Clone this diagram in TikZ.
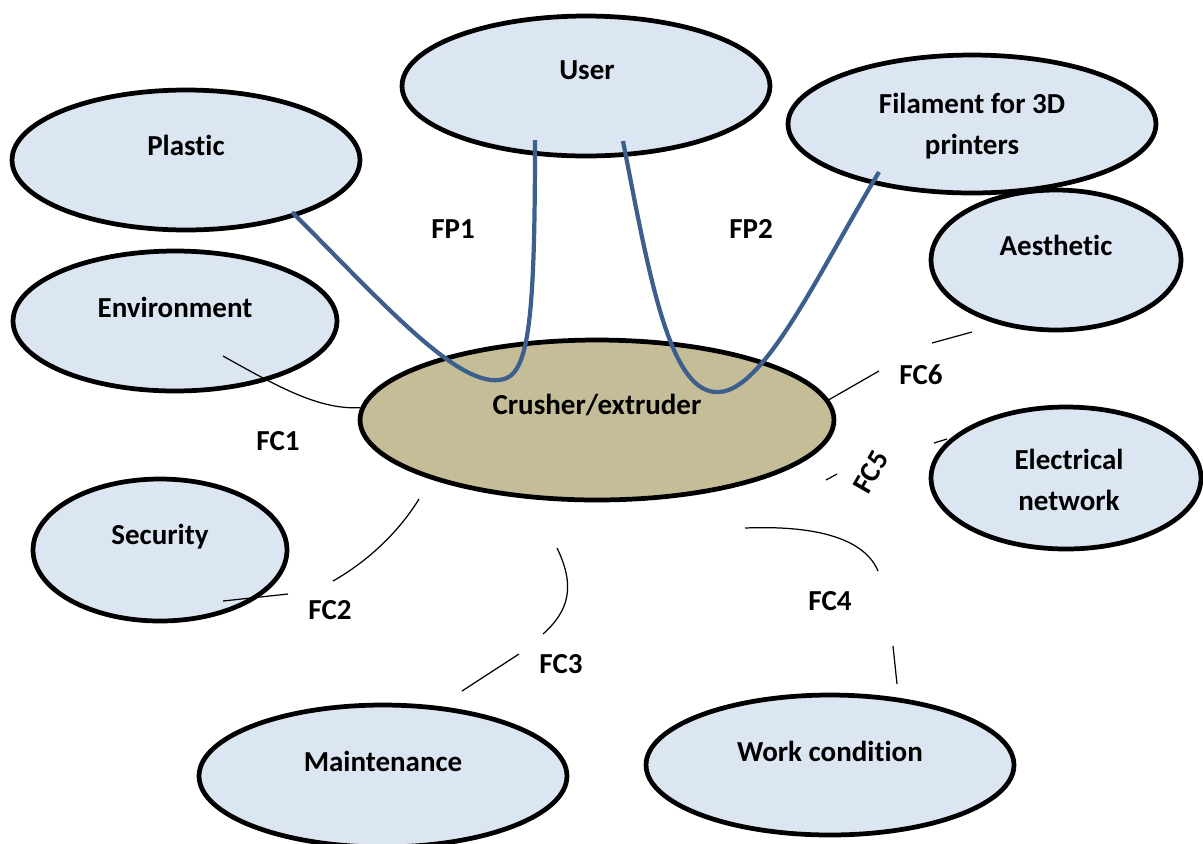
\documentclass[tikz,border=0pt]{standalone}
\usepackage{fontspec}
\setmainfont{Carlito}[Ligatures=NoCommon]
\usetikzlibrary{shapes.geometric}
\definecolor{paleblue}{HTML}{DCE6F2}
\definecolor{tan}{HTML}{C4BD97}
\definecolor{fpblue}{HTML}{3C5F8E}
\tikzset{
  blob/.style={ellipse, draw, line width=2.7pt, fill=paleblue, inner sep=0pt},
  lbl/.style={font=\bfseries\fontsize{16.5}{23.5}\selectfont, align=center},
  fpline/.style={draw=fpblue, line width=2.4pt},
  fcline/.style={draw, line width=0.7pt},
}
\begin{document}
\begin{tikzpicture}[x=0.02cm, y=-0.02cm]
\useasboundingbox (0,0) rectangle (1203,843);

% ellipses
\node[blob, minimum width=6.96cm, minimum height=2.8cm] (plastic) at (186,160) {};
\node[blob, minimum width=7.36cm, minimum height=2.8cm] (user) at (586,86) {};
\node[blob, minimum width=7.36cm, minimum height=2.76cm] (filament) at (972,124) {};
\node[blob, minimum width=5.0cm, minimum height=2.8cm] (aesthetic) at (1056,260) {};
\node[blob, minimum width=6.48cm, minimum height=2.8cm] (environment) at (175,321) {};
\node[blob, fill=tan, minimum width=9.48cm, minimum height=3.2cm] (crusher) at (597,420) {};
\node[blob, minimum width=5.4cm, minimum height=2.84cm] (electrical) at (1066,478) {};
\node[blob, minimum width=5.08cm, minimum height=2.84cm] (security) at (160,550) {};
\node[blob, minimum width=7.36cm, minimum height=2.84cm] (maintenance) at (383,776) {};
\node[blob, minimum width=7.36cm, minimum height=2.8cm] (work) at (830,765) {};

% texts
\node[lbl] (tplastic) at (186,145) {Plastic};
\node[lbl] (tuser) at (587,70) {User};
\node[lbl] (tfilament) at (972,126) {Filament for 3D\\printers};
\node[lbl] (taesthetic) at (1056,245) {Aesthetic};
\node[lbl] (tenvironment) at (175,307) {Environment};
\node[lbl] (tcrusher) at (597,405) {Crusher/extruder};
\node[lbl] (telectrical) at (1069,480) {Electrical\\network};
\node[lbl] (tsecurity) at (160,537) {Security};
\node[lbl] (tmaintenance) at (383,761) {Maintenance};
\node[lbl] (twork) at (830,751) {Work condition};

% free ends
\coordinate (fp1a) at (292,212);
\coordinate (fp1b) at (535,140);
\coordinate (fp2a) at (623,141);
\coordinate (fp2b) at (879,172);
\coordinate (fc1a) at (223,356);
\coordinate (fc2a) at (223,601);
\coordinate (fc2b) at (288,594);
\coordinate (fc2c) at (333,581);
\coordinate (fc2d) at (419,499);
\coordinate (fc3a) at (557,548);
\coordinate (fc3b) at (543,634);
\coordinate (fc3c) at (519,654);
\coordinate (fc3d) at (462,691);
\coordinate (fc4a) at (745,528);
\coordinate (fc4b) at (878,571);
\coordinate (fc4c) at (893,646);
\coordinate (fc4d) at (897,684);
\coordinate (fc5a) at (826,480);
\coordinate (fc5b) at (837,474);
\coordinate (fc5c) at (934,443);
\coordinate (fc5d) at (947,439);
\coordinate (fc6a) at (879,371);
\coordinate (fc6b) at (932,343);
\coordinate (fc6c) at (972,332);

% FP connectors
\draw[fpline] (fp1a) .. controls (380,300) and (455,385) .. (499,380)
  .. controls (528,378) and (535,330) .. (fp1b);
\draw[fpline] (fp2a) .. controls (650,280) and (670,395) .. (719,392)
  .. controls (765,390) and (820,270) .. (fp2b);
\node[lbl] (fp1) at (453,229) {FP1};
\node[lbl] (fp2) at (751,229) {FP2};

% FC connectors
\draw[fcline] (fc1a) .. controls (280,388) and (320,410) .. (crusher.177);
\node[lbl] (fc1) at (278,441) {FC1};

\draw[fcline] (fc2a) -- (fc2b);
\draw[fcline] (fc2c) .. controls (370,560) and (400,530) .. (fc2d);
\node[lbl] (fc2) at (330,610) {FC2};

\draw[fcline] (fc3a) .. controls (575,585) and (570,610) .. (fc3b);
\draw[fcline] (fc3c) -- (fc3d);
\node[lbl] (fc3) at (561,664) {FC3};

\draw[fcline] (fc4a) .. controls (820,525) and (865,540) .. (fc4b);
\draw[fcline] (fc4c) -- (fc4d);
\node[lbl] (fc4) at (830,601) {FC4};

\draw[fcline] (fc5a) -- (fc5b);
\draw[fcline] (fc5c) -- (fc5d);
\node[lbl, rotate=60] (fc5) at (871,472) {FC5};

\draw[fcline] (crusher.5) -- (fc6a);
\draw[fcline] (fc6b) -- (fc6c);
\node[lbl] (fc6) at (921,375) {FC6};
\end{tikzpicture}
\end{document}
